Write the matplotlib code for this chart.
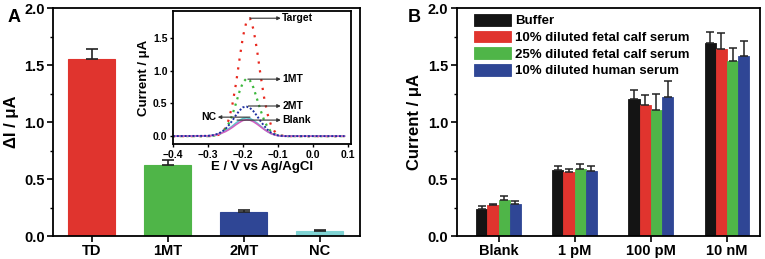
import numpy as np
import matplotlib
matplotlib.use("Agg")
import matplotlib.pyplot as plt
from matplotlib.ticker import MultipleLocator

plt.rcParams['font.family'] = ['Liberation Sans', 'DejaVu Sans']
plt.rcParams['font.weight'] = 'bold'
plt.rcParams['axes.labelweight'] = 'bold'

# panel A bars
a_cats = ["TD", "1MT", "2MT", "NC"]
a_vals = [1.55, 0.62, 0.21, 0.04]
a_err = [0.09, 0.05, 0.015, 0.015]
a_colors = ["#e0342e", "#4fb548", "#2f4695", "#7fd3d3"]

# inset voltammograms
potential = [-0.40, -0.30, -0.29, -0.28, -0.27, -0.26, -0.25, -0.24, -0.23, -0.22, -0.21,
             -0.20, -0.19, -0.18, -0.17, -0.16, -0.15, -0.14, -0.13, -0.12, -0.11,
             -0.10, -0.09, -0.08, 0.09]
i_target = [0.0, 0.0, 0.002, 0.007, 0.02, 0.053, 0.125, 0.26, 0.49, 0.80, 1.17,
            1.52, 1.75, 1.80, 1.63, 1.32, 0.94, 0.60, 0.34, 0.17, 0.075,
            0.03, 0.01, 0.0, 0.0]
i_1mt = [0.0, 0.0, 0.003, 0.01, 0.025, 0.055, 0.11, 0.20, 0.33, 0.50, 0.68,
         0.82, 0.88, 0.85, 0.74, 0.57, 0.40, 0.25, 0.14, 0.07, 0.03,
         0.012, 0.004, 0.0, 0.0]
i_2mt = [0.0, 0.005, 0.01, 0.02, 0.04, 0.07, 0.11, 0.17, 0.24, 0.32, 0.39,
         0.44, 0.45, 0.43, 0.38, 0.31, 0.23, 0.16, 0.10, 0.055, 0.028,
         0.012, 0.005, 0.0, 0.0]
i_nc = [0.0, 0.005, 0.01, 0.02, 0.035, 0.055, 0.08, 0.115, 0.155, 0.20, 0.24,
        0.27, 0.28, 0.27, 0.24, 0.20, 0.155, 0.11, 0.07, 0.04, 0.02,
        0.008, 0.003, 0.0, 0.0]
i_blank = [0.0, 0.004, 0.009, 0.018, 0.03, 0.048, 0.07, 0.10, 0.135, 0.175, 0.21,
           0.24, 0.25, 0.245, 0.22, 0.185, 0.145, 0.105, 0.07, 0.04, 0.02,
           0.008, 0.003, 0.0, 0.0]

# panel B grouped bars
b_cats = ["Blank", "1 pM", "100 pM", "10 nM"]
b_series = ["Buffer", "10% diluted fetal calf serum",
            "25% diluted fetal calf serum", "10% diluted human serum"]
buffer_v = [0.24, 0.58, 1.20, 1.69]
fcs10_v = [0.27, 0.56, 1.15, 1.64]
fcs25_v = [0.32, 0.59, 1.11, 1.54]
human_v = [0.28, 0.57, 1.22, 1.58]
buffer_e = [0.02, 0.03, 0.08, 0.10]
fcs10_e = [0.015, 0.03, 0.085, 0.14]
fcs25_e = [0.03, 0.045, 0.14, 0.11]
human_e = [0.03, 0.045, 0.14, 0.13]
b_colors = ["#141414", "#e0342e", "#4fb548", "#2f4695"]

fig = plt.figure(figsize=(7.65, 2.59), dpi=100)


def style_main(ax):
    ax.set_ylim(0, 2.0)
    ax.yaxis.set_major_locator(MultipleLocator(0.5))
    ax.yaxis.set_minor_locator(MultipleLocator(0.25))
    ax.tick_params(axis='y', labelsize=10.5, direction='out', length=4, width=1.2, pad=2)
    ax.tick_params(axis='y', which='minor', direction='out', length=2.5, width=1)
    ax.tick_params(axis='x', labelsize=10.5, direction='out', length=4, width=1.2, pad=2)
    for s in ax.spines.values():
        s.set_linewidth(1.3)


# ---- panel A
axA = fig.add_axes([0.0693, 0.0888, 0.4013, 0.880])
x = np.arange(len(a_cats))
axA.bar(x, a_vals, width=0.62, color=a_colors, edgecolor=a_colors, linewidth=0.8,
        yerr=[np.zeros(4), a_err], capsize=4, error_kw=dict(ecolor="#222222", elinewidth=1.2, capthick=1.2))
axA.set_xlim(-0.51, 3.53)
axA.set_xticks(x)
axA.set_xticklabels(a_cats)
style_main(axA)
axA.set_ylabel("ΔI / μA", fontsize=12, labelpad=4)
fig.text(0.010, 0.915, "A", fontsize=13, fontweight='bold')

# ---- inset
axI = fig.add_axes([0.2261, 0.444, 0.2327, 0.5135])
axI.plot(potential, i_target, color="#e8281e", linestyle=(0, (1, 3)), linewidth=1.6)
axI.plot(potential, i_1mt, color="#3cb83c", linestyle=(0, (1, 2)), linewidth=1.6)
axI.plot(potential, i_nc, color="#5cc8d0", linewidth=1.2)
axI.plot(potential, i_blank, color="#d060c0", linewidth=1.2)
axI.plot(potential, i_2mt, color="#1d2fa0", linestyle=(0, (1, 1)), linewidth=1.4)
axI.set_xlim(-0.4, 0.1086)
axI.set_ylim(-0.12, 1.91)
axI.xaxis.set_major_locator(MultipleLocator(0.1))
axI.yaxis.set_major_locator(MultipleLocator(0.5))
axI.tick_params(labelsize=7.5, direction='out', length=2.5, width=1, pad=1.5)
axI.set_xlabel("E / V vs Ag/AgCl", fontsize=9.5, labelpad=1)
axI.set_ylabel("Current / μA", fontsize=9.5, labelpad=2)
for s in axI.spines.values():
    s.set_linewidth(1.3)

arrow = dict(arrowstyle="-|>", color="#333333", lw=0.8, mutation_scale=5, shrinkA=0, shrinkB=0)
for txt, y0, x0 in [("Target", 1.80, -0.18), ("1MT", 0.87, -0.186), ("2MT", 0.46, -0.185), ("Blank", 0.245, -0.217)]:
    axI.annotate("", xy=(-0.092, y0), xytext=(x0, y0), arrowprops=arrow)
    axI.text(-0.088, y0, txt, fontsize=7.5, va='center', ha='left')
axI.annotate("", xy=(-0.272, 0.29), xytext=(-0.18, 0.29), arrowprops=arrow)
axI.text(-0.275, 0.29, "NC", fontsize=7.5, va='center', ha='right')

# ---- panel B
axB = fig.add_axes([0.597, 0.0888, 0.396, 0.880])
xb = np.arange(len(b_cats))
w = 0.147
vals = [buffer_v, fcs10_v, fcs25_v, human_v]
errs = [buffer_e, fcs10_e, fcs25_e, human_e]
for k in range(4):
    axB.bar(xb + (k - 1.5) * w, vals[k], width=w, color=b_colors[k], edgecolor=b_colors[k],
            linewidth=0.6, label=b_series[k],
            yerr=[np.zeros(4), errs[k]], capsize=3,
            error_kw=dict(ecolor="#222222", elinewidth=1.1, capthick=1.1))
axB.set_xlim(-0.55, 3.43)
axB.set_xticks(xb)
axB.set_xticklabels(b_cats)
style_main(axB)
axB.set_ylabel("Current / μA", fontsize=12, labelpad=4)
axB.legend(loc='upper left', bbox_to_anchor=(0.028, 1.015), frameon=False, fontsize=9.5,
           handlelength=2.8, handleheight=1.0, handletextpad=0.3, labelspacing=0.25,
           borderaxespad=0.3)
fig.text(0.533, 0.915, "B", fontsize=13, fontweight='bold')

fig.savefig("out.png", dpi=100)
